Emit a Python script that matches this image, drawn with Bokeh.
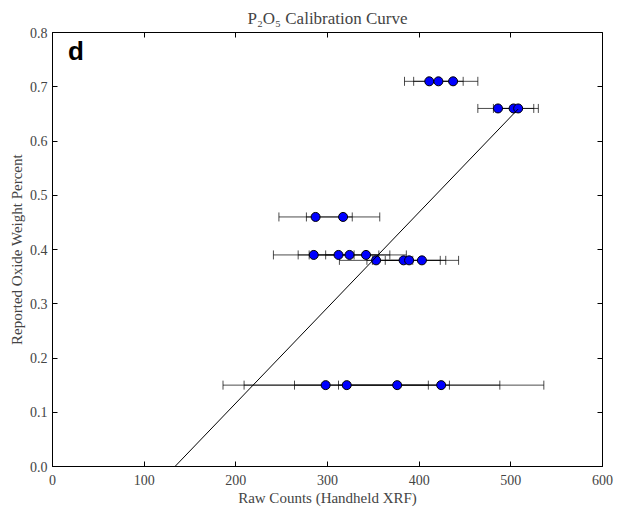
from bokeh.plotting import figure
from bokeh.models import (ColumnDataSource, Whisker, TeeHead, LinearAxis, Label,
                          FixedTicker, Range1d, CustomJSTickFormatter)
from bokeh.embed import file_html
from bokeh.resources import INLINE

# ---- data ----
row_y = [0.71, 0.66, 0.46, 0.39, 0.38, 0.15]
row_x = [
    [411, 421, 437],
    [486, 503, 508],
    [287, 317],
    [285, 312, 324, 342],
    [353, 383, 389, 403],
    [298, 321, 376, 424],
]
row_err = [27, 22, 40, 44, 40, 112]

fit_slope = 0.00176
fit_x0 = 133.6        # x-intercept of the calibration line
fit_x = [133.6, 508]  # span of the drawn fit line

x_ticks = [0, 100, 200, 300, 400, 500, 600]
y_ticks = [0.0, 0.1, 0.2, 0.3, 0.4, 0.5, 0.6, 0.7, 0.8]

# ---- build table ----
xs, ys, lo, hi = [], [], [], []
for yv, xrow, e in zip(row_y, row_x, row_err):
    for xv in xrow:
        xs.append(xv); ys.append(yv); lo.append(xv - e); hi.append(xv + e)
src = ColumnDataSource(dict(x=xs, y=ys, lower=lo, upper=hi))
fit_y = [fit_slope * (v - fit_x0) for v in fit_x]

SERIF = "Liberation Serif"

p = figure(width=643, height=508, output_backend="svg", toolbar_location=None,
           x_range=Range1d(0, 600), y_range=Range1d(0, 0.8),
           min_border_left=52, min_border_right=41, min_border_top=32, min_border_bottom=42,
           title="P\u2082O\u2085 Calibration Curve")
p.title.align = "center"
p.title.text_font = SERIF
p.title.text_font_size = "17px"
p.title.text_font_style = "normal"
p.title.standoff = 10

p.xgrid.visible = False
p.ygrid.visible = False
p.outline_line_color = "black"
p.outline_line_alpha = 1
p.outline_line_width = 1
p.background_fill_color = "white"
p.border_fill_color = "white"

for ax, ticks in ((p.xaxis[0], x_ticks), (p.yaxis[0], y_ticks)):
    ax.ticker = FixedTicker(ticks=ticks)
    ax.major_tick_in = 5
    ax.major_tick_out = 0
    ax.minor_tick_line_color = None
    ax.major_label_text_font = SERIF
    ax.major_label_text_font_size = "14px"
    ax.axis_label_text_font = SERIF
    ax.axis_label_text_font_size = "15px"
    ax.axis_label_text_font_style = "normal"
    ax.axis_line_color = "black"
    ax.major_tick_line_color = "black"
p.yaxis[0].formatter = CustomJSTickFormatter(code="return tick.toFixed(1)")
p.xaxis[0].axis_label = "Raw Counts (Handheld XRF)"
p.yaxis[0].axis_label = "Reported Oxide Weight Percent"
p.xaxis[0].major_label_standoff = 8
p.xaxis[0].axis_label_standoff = 2
p.yaxis[0].major_label_standoff = 5
p.yaxis[0].axis_label_standoff = 2

# tick-only axes on top and right
top = LinearAxis(ticker=FixedTicker(ticks=x_ticks), major_tick_in=5, major_tick_out=0,
                 minor_tick_line_color=None, major_label_text_font_size="0px",
                 major_label_standoff=0, axis_line_color=None)
right = LinearAxis(ticker=FixedTicker(ticks=y_ticks), major_tick_in=5, major_tick_out=0,
                   minor_tick_line_color=None, major_label_text_font_size="0px",
                   major_label_standoff=0, axis_line_color=None)
p.add_layout(top, "above")
p.add_layout(right, "right")

# error bars
w = Whisker(source=src, base="y", lower="lower", upper="upper", dimension="width",
            line_color="black", line_alpha=0.7, line_width=1,
            lower_head=TeeHead(size=9, line_color="black", line_alpha=0.7),
            upper_head=TeeHead(size=9, line_color="black", line_alpha=0.7))
p.add_layout(w)

p.scatter("x", "y", source=src, size=9, fill_color="#0000ff", line_color="black", line_width=1)

p.line(fit_x, fit_y, line_color="black", line_width=1)

p.add_layout(Label(x=17, y=0.766, text="d", text_font="Liberation Sans", text_font_size="26px",
                   text_font_style="bold", text_color="black", text_baseline="alphabetic"))

open("out.html", "w").write(file_html(p, INLINE))
